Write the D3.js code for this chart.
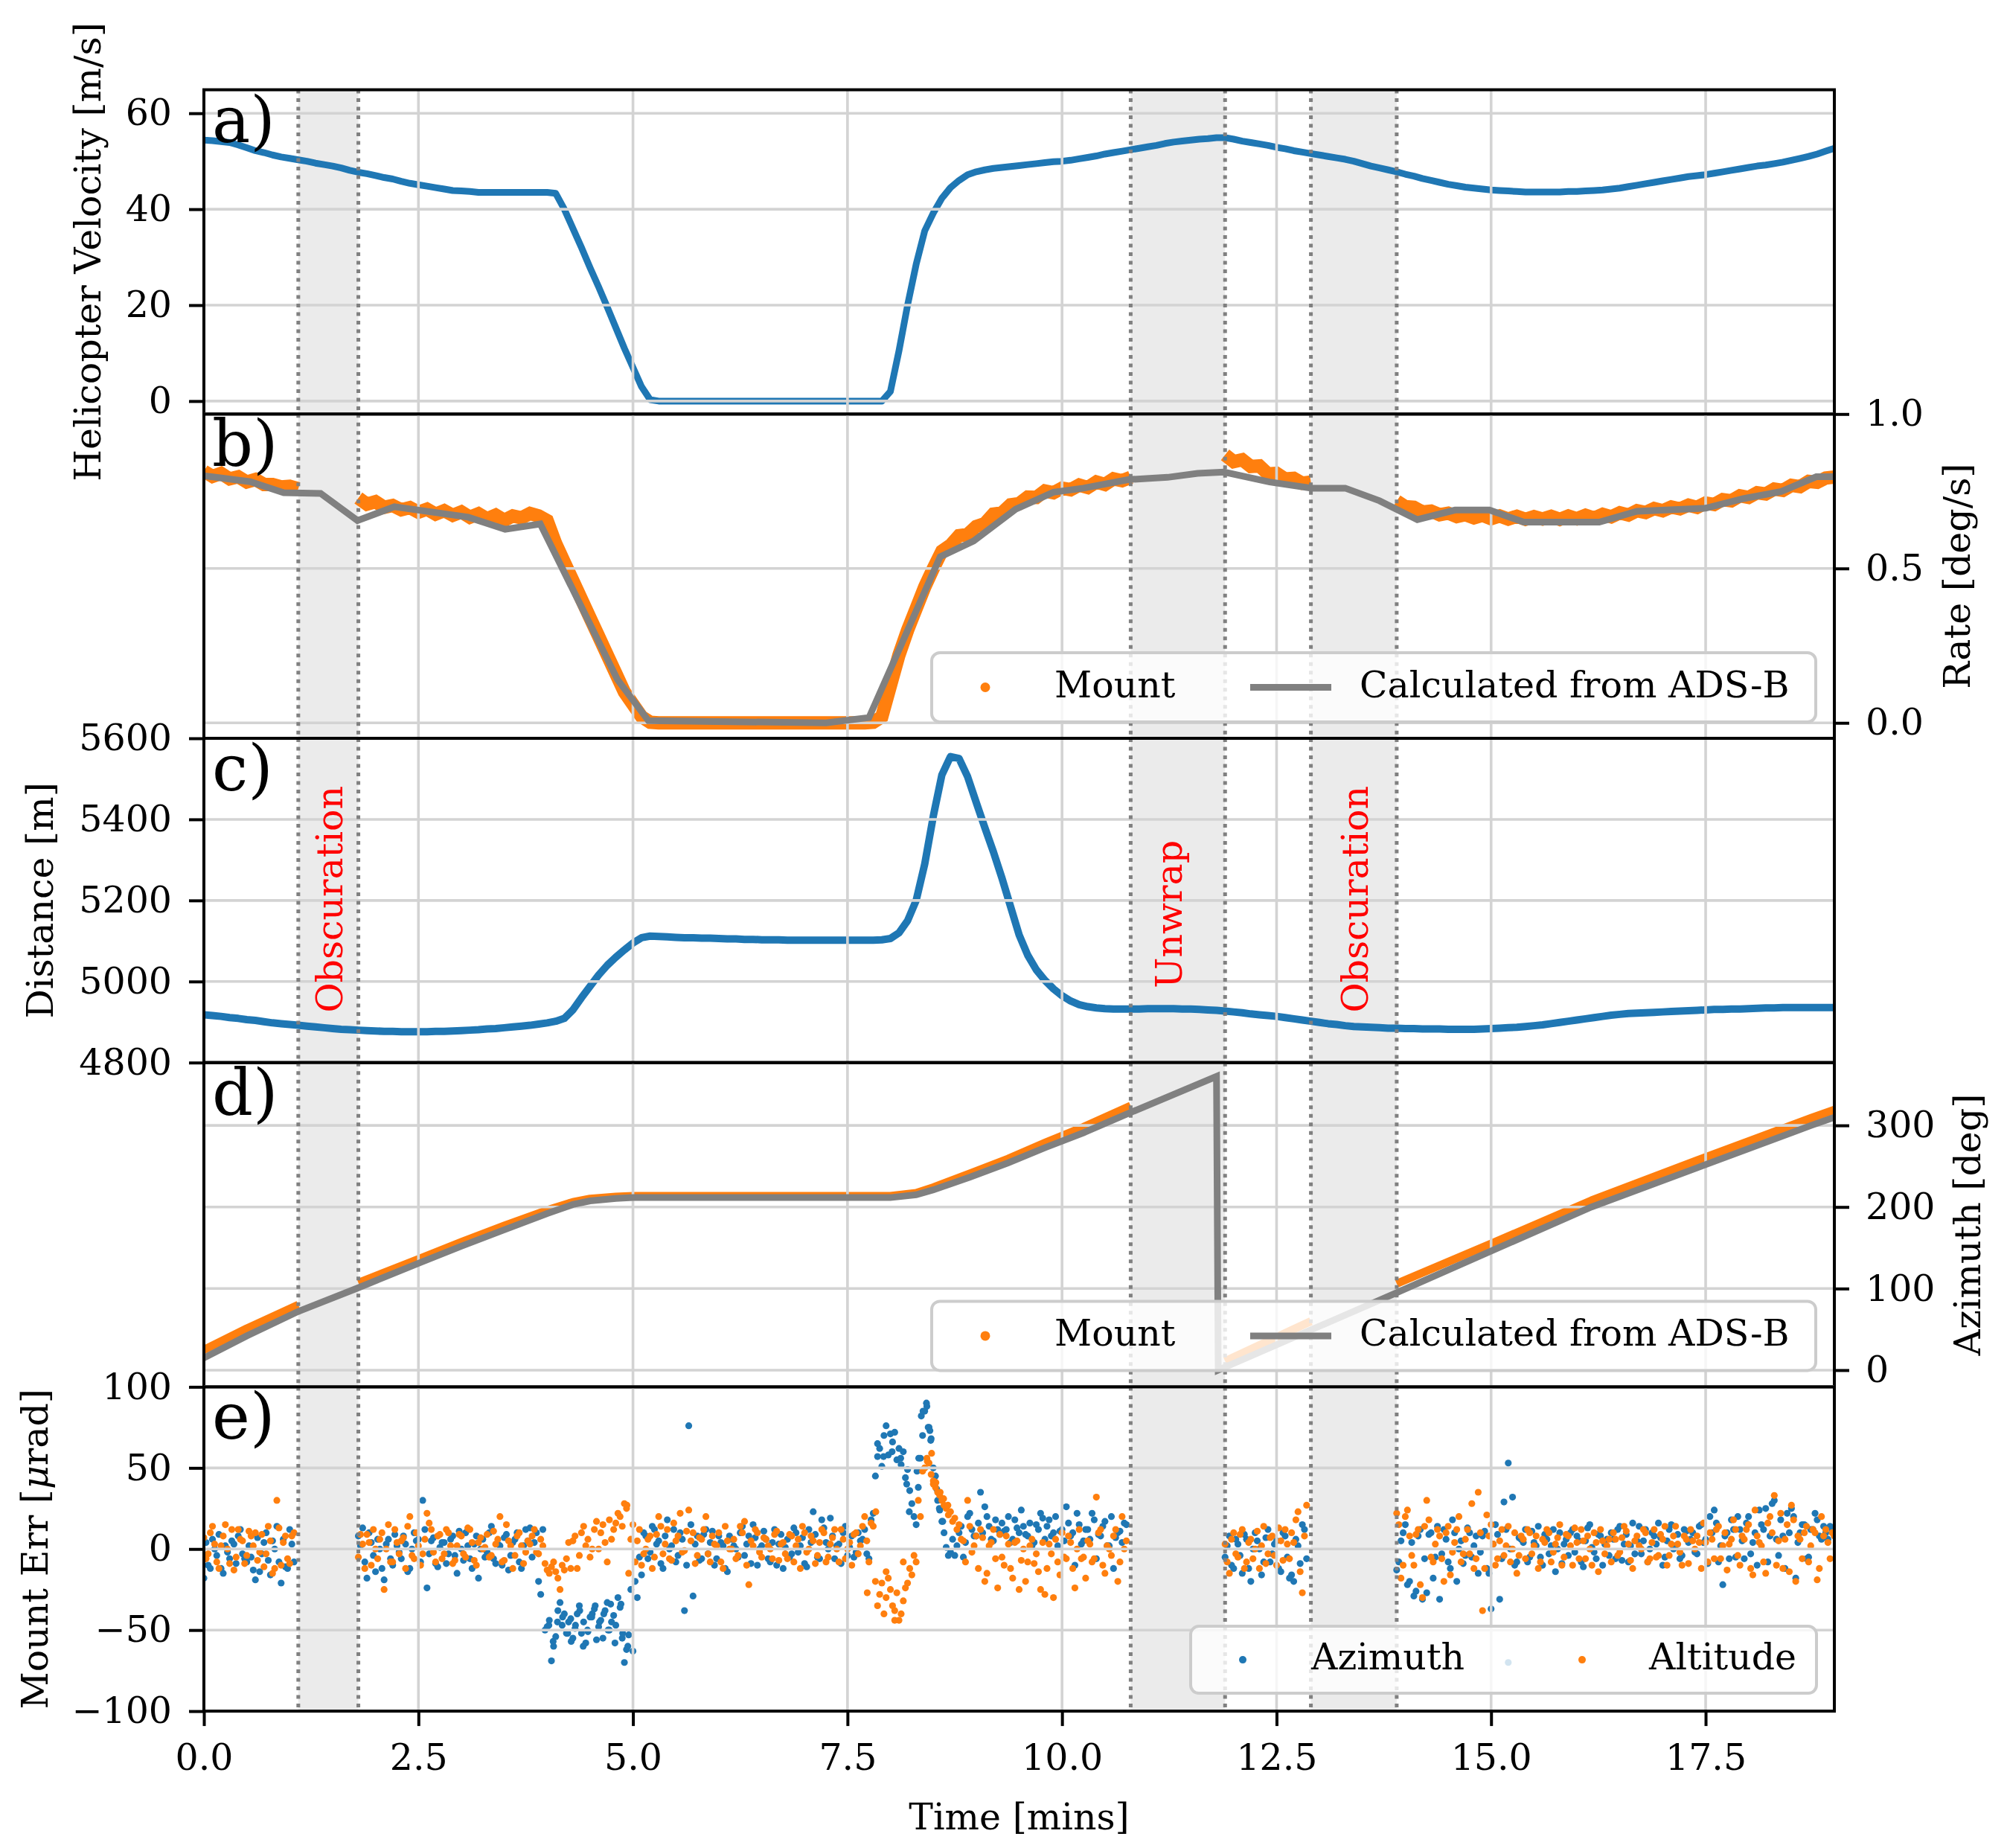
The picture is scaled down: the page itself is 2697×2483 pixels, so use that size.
<!DOCTYPE html>
<meta charset="utf-8">
<style>
  body { margin: 0; background: #fff; }
  svg text { font-family: "DejaVu Serif", serif; }
</style>
<script src="https://d3js.org/d3.v7.min.js"></script>
<svg id="chart" width="2697" height="2483"></svg>
<script>
  // ---------- values ----------
  var timeTicks = [0, 2.5, 5, 7.5, 10, 12.5, 15, 17.5];
  var velTicks = [0, 20, 40, 60];
  var rateTicks = [0, 0.5, 1.0];
  var distTicks = [4800, 5000, 5200, 5400, 5600];
  var azTicks = [0, 100, 200, 300];
  var errTicks = [-100, -50, 0, 50, 100];

  // shaded spans (minutes) and their captions
  var spans = [[1.1, 1.8], [10.8, 11.9], [12.9, 13.9]];
  var spanText = ["Obscuration", "Unwrap", "Obscuration"];
  var spanTextAt = [[1.45, 5203], [11.35, 5166], [13.4, 5203]];

  // a) helicopter velocity, every 0.1 min from 0 to 19
  var velStep = 0.1;
  var velocity = [
    54.4, 54.3, 54.1, 53.9, 53.4, 52.8, 52.2, 51.8, 51.3, 50.9,
    50.6, 50.3, 50.0, 49.6, 49.3, 49.0, 48.6, 48.1, 47.7, 47.4,
    47.0, 46.6, 46.3, 45.8, 45.4, 45.1, 44.8, 44.5, 44.2, 43.9,
    43.8, 43.7, 43.5, 43.5, 43.5, 43.5, 43.5, 43.5, 43.5, 43.5,
    43.5, 43.3, 40.0, 36.0, 32.0, 27.8, 23.8, 19.6, 15.3, 11.0,
    7.0, 3.0, 0.3, 0, 0, 0, 0, 0, 0, 0,
    0, 0, 0, 0, 0, 0, 0, 0, 0, 0,
    0, 0, 0, 0, 0, 0, 0, 0, 0, 0,
    2.0, 10.5, 20.0, 28.5, 35.5, 39.2, 42.3, 44.5, 46.0, 47.2,
    47.8, 48.2, 48.5, 48.7, 48.9, 49.1, 49.3, 49.5, 49.7, 49.9,
    50.0, 50.2, 50.5, 50.8, 51.1, 51.5, 51.8, 52.1, 52.4, 52.7,
    53.0, 53.3, 53.7, 54.0, 54.2, 54.4, 54.6, 54.7, 54.9, 54.9,
    54.6, 54.2, 53.9, 53.6, 53.3, 52.9, 52.6, 52.2, 51.9, 51.6,
    51.3, 51.0, 50.7, 50.4, 50.0, 49.5, 49.0, 48.6, 48.2, 47.8,
    47.3, 46.9, 46.4, 46.0, 45.6, 45.2, 44.9, 44.6, 44.4, 44.2,
    44.0, 43.9, 43.8, 43.7, 43.6, 43.6, 43.6, 43.6, 43.6, 43.7,
    43.7, 43.8, 43.9, 44.0, 44.2, 44.4, 44.7, 45.0, 45.3, 45.6,
    45.9, 46.2, 46.5, 46.8, 47.0, 47.2, 47.5, 47.8, 48.1, 48.4,
    48.7, 49.0, 49.2, 49.5, 49.8, 50.2, 50.6, 51.0, 51.5, 52.1,
    52.7
  ];

  // b) angular rate from ADS-B (polyline vertices, [min, deg/s])
  var rateAdsb = [
    [0.0, 0.800], [0.54, 0.781], [0.93, 0.745], [1.36, 0.743], [1.79, 0.655],
    [2.22, 0.700], [3.08, 0.666], [3.51, 0.627], [3.92, 0.644], [4.82, 0.140],
    [5.18, 0.007], [7.25, 0.000], [7.75, 0.017], [8.58, 0.538], [8.97, 0.589],
    [9.46, 0.692], [9.90, 0.747], [10.25, 0.760], [10.78, 0.788], [11.23, 0.795],
    [11.58, 0.808], [11.89, 0.812], [12.42, 0.780], [12.91, 0.760], [13.30, 0.760],
    [13.70, 0.719], [14.14, 0.658], [14.58, 0.689], [14.98, 0.689], [15.38, 0.650],
    [16.26, 0.650], [16.70, 0.685], [17.50, 0.695], [17.94, 0.726], [18.38, 0.749],
    [18.79, 0.797], [19.0, 0.797]
  ];
  // b) mount rate, every 0.1 min inside each tracked segment
  var rateStep = 0.1;
  var rateStart = [0, 1.8, 11.9, 13.9];
  var rateMount = [
    [0.815, 0.798, 0.808, 0.790, 0.797, 0.780, 0.788, 0.772, 0.772, 0.764, 0.766, 0.758],
    [0.728, 0.708, 0.716, 0.698, 0.704, 0.690, 0.697, 0.682, 0.692, 0.676,
     0.687, 0.672, 0.683, 0.666, 0.677, 0.661, 0.673, 0.656, 0.670, 0.664,
     0.678, 0.670, 0.655, 0.580, 0.520, 0.460, 0.400, 0.340, 0.280, 0.220,
     0.160, 0.100, 0.060, 0.020, 0.002, 0, 0, 0, 0, 0,
     0, 0, 0, 0, 0, 0, 0, 0, 0, 0,
     0, 0, 0, 0, 0, 0, 0, 0, 0, 0,
     0.002, 0.020, 0.120, 0.220, 0.300, 0.370, 0.440, 0.500, 0.556, 0.575,
     0.606, 0.610, 0.636, 0.645, 0.676, 0.680, 0.706, 0.710, 0.731, 0.730,
     0.751, 0.745, 0.760, 0.755, 0.770, 0.762, 0.780, 0.772, 0.790, 0.784,
     0.795],
    [0.868, 0.846, 0.852, 0.830, 0.832, 0.806, 0.808, 0.790, 0.792, 0.776, 0.780],
    [0.718, 0.700, 0.698, 0.683, 0.686, 0.674, 0.679, 0.668, 0.674, 0.664,
     0.672, 0.661, 0.670, 0.660, 0.669, 0.659, 0.668, 0.660, 0.669, 0.659,
     0.670, 0.661, 0.672, 0.663, 0.675, 0.667, 0.680, 0.673, 0.687, 0.681,
     0.694, 0.687, 0.699, 0.693, 0.705, 0.698, 0.712, 0.707, 0.723, 0.719,
     0.735, 0.730, 0.745, 0.741, 0.757, 0.753, 0.769, 0.765, 0.782, 0.779,
     0.793, 0.796]
  ];

  // c) distance, every 0.1 min from 0 to 19
  var distStep = 0.1;
  var distance = [
    4918, 4916, 4914, 4911, 4909, 4906, 4904, 4901, 4898, 4896,
    4894, 4892, 4890, 4888, 4886, 4884, 4882, 4881, 4880, 4879,
    4878, 4877, 4877, 4876, 4876, 4876, 4876, 4877, 4877, 4878,
    4879, 4880, 4881, 4883, 4884, 4886, 4888, 4890, 4892, 4895,
    4898, 4902, 4909, 4930, 4960, 4988, 5016, 5040, 5060, 5078,
    5095, 5108, 5112, 5111, 5110, 5109, 5108, 5108, 5107, 5107,
    5106, 5105, 5105, 5104, 5104, 5103, 5103, 5103, 5102, 5102,
    5102, 5102, 5102, 5102, 5102, 5102, 5102, 5102, 5102, 5103,
    5106, 5120, 5150, 5200, 5290, 5408, 5510, 5555, 5550, 5505,
    5442, 5380, 5320, 5255, 5185, 5115, 5065, 5029, 5003, 4982,
    4965, 4952, 4943, 4938, 4935, 4933, 4932, 4932, 4932, 4932,
    4933, 4933, 4933, 4933, 4932, 4932, 4931, 4930, 4929, 4927,
    4925, 4923, 4920, 4918, 4916, 4914, 4911, 4908, 4905, 4902,
    4899, 4896, 4894, 4891, 4889, 4888, 4887, 4886, 4885, 4885,
    4884, 4884, 4883, 4883, 4883, 4882, 4882, 4882, 4882, 4883,
    4884, 4885, 4886, 4887, 4889, 4891, 4893, 4896, 4899, 4902,
    4905, 4908, 4911, 4914, 4917, 4919, 4921, 4922, 4923, 4924,
    4925, 4926, 4927, 4928, 4929, 4930, 4931, 4931, 4932, 4932,
    4933, 4934, 4935, 4935, 4936, 4936, 4936, 4936, 4936, 4936,
    4936
  ];

  // d) azimuth [min, deg]
  var azAdsb = [
    [0, 15], [0.5, 42], [1.1, 72], [1.8, 101], [2.5, 131], [3.0, 152], [3.5, 172],
    [4.0, 192], [4.3, 203], [4.5, 207.5], [4.8, 210.5], [5.0, 211.5], [8.0, 211.5],
    [8.3, 215], [8.5, 221], [8.93, 236.7], [9.37, 254], [9.81, 273], [10.25, 291],
    [10.78, 315], [11.80, 360], [11.82, 0], [13.88, 94], [15.0, 146], [16.17, 200],
    [17.4, 248], [18.73, 300], [19.0, 310]
  ];
  var azMount = [
    [[0, 25], [0.5, 51], [1.1, 80]],
    [[1.8, 107], [2.5, 136], [3.0, 157], [3.5, 177], [4.0, 196], [4.3, 206], [4.5, 210],
     [4.8, 212.5], [5.0, 213.5], [8.0, 213.5], [8.3, 217], [8.5, 224], [8.93, 241],
     [9.37, 259], [9.81, 279], [10.25, 298], [10.8, 324]],
    [[11.9, 11], [12.9, 60]],
    [[13.9, 106], [15.0, 155], [16.17, 208], [17.4, 257], [18.73, 309], [19.0, 319]]
  ];

  // e) mount pointing error, two interleaved 0.05-min samplings per tracked segment
  var errStep = 0.05;
  var errStart = [0, 1.8, 11.9, 13.9];
  var errStart2 = [0.025, 1.825, 11.925, 13.925];
  var errAz = [
    [-18, -10, 6, -4, -12, 2, -6, 3, 8, -3, -8, -5, -19, -14, 4, -7, 5, 14, -21, -11, 12, -8],
    [8, 13, -18, 4, -14, 0, -19, 6, -10, 2,
     -6, 3, -12, 10, 6, 30, -24, 5, -9, 1,
     4, -3, 8, -15, 0, 10, -6, 3, -18, 6,
     -2, 14, -9, 2, 7, -13, 4, 10, -12, 12,
     13, 4, -20, 12, -48, -69, -54, -33, -40, -45,
     -55, -40, -52, -58, -42, -37, -48, -55, -33, -45,
     -47, -36, -70, -53, -63, -30, -16, 8, -2, 12,
     5, -12, 18, 2, -8, 10, -38, 76, -29, 8,
     -6, 12, 4, -10, 8, 2, -14, 6, 0, 10,
     -4, 8, 15, -10, 2, 6, -8, 12, 3, -12,
     6, -3, 10, 2, -9, 12, 23, -5, 18, 4,
     19, -6, 3, 10, -4, 8, -2, 5, 12, -6,
     22, 57, 51, 76, 71, 72, 62, 60, 49, 28,
     15, 56, 85, 75, 50, 30, 17, 1, -2, -4,
     10, -5, 20, 12, 8, 35, 26, 14, 5, 12,
     16, 12, 4, 18, 10, 14, 8, 2, 15, 22,
     6, 18, 10, 2, 12, 26, 8, -10, 15, 5,
     12, 22, -6, 8, 17, 2, -12, 10, 4, 15],
    [-5, 8, -12, 3, -15, 6, -20, 10, 0, -8, 12, -3, 5, -14, 8, -18, -20, 2, 15, -6],
    [-13, 5, 15, -20, -29, 8, -31, -27, 10, -5,
     -31, 12, -8, 18, -20, 5, -4, 10, 2, -15,
     8, -12, -37, 15, -31, 29, 53, 32, -8, 6,
     12, -5, 4, 14, -10, 6, 2, -14, 10, 3,
     -4, 12, 8, -8, 5, 15, -2, 9, -10, 6,
     10, -6, 14, 3, -8, 16, 5, -3, 12, 0,
     8, 16, -10, 5, 15, 2, -6, 12, 4, 10,
     -3, 15, 6, 20, 24, -8, -22, 10, 18, -5,
     12, -6, 20, 4, -10, 15, 25, 8, 30, -4,
     8, 22, 25, -18, 10, 15, -5, 12, 18, 6,
     10, 14, 8]
  ];
  var errAz2 = [
    [4, -12, 0, 9, -15, -2, 5, -9, 12, -6, 2, -13, 7, -3, 10, -16, 0, -8, 6, -12, 3],
    [2, -8, 10, -4, 6, -12, 3, -6, 9, -2,
     8, -14, 0, 5, -8, 12, -3, 7, -11, 4,
     -9, 6, -4, 11, -7, 2, -12, 8, 0, -5,
     10, -6, 3, -10, 9, -4, 6, -8, 2, 5,
     -5, 10, -28, -50, -44, -60, -38, -47, -52, -43,
     -49, -35, -45, -51, -40, -56, -44, -38, -50, -41,
     -30, -55, -62, -25, -20, -5, 10, -6, 14, 3,
     -9, 8, 0, 12, -4, 6, -10, 15, 3, -7,
     9, -3, 11, -6, 4, -12, 8, 2, -5, 14,
     3, -9, 7, 0, 11, -6, 4, -10, 9, 1,
     -5, 13, -2, 7, -11, 4, 9, -6, 13, 0,
     8, 2, -9, 14, 1, -5, 10, 6, -3, 18,
     45, 62, 70, 58, 66, 55, 52, 44, 36, 20,
     38, 70, 88, 68, 45, 24, 10, -4, 6, 2,
     14, 4, 22, 8, 16, 10, 20, 6, 18, 9,
     11, 20, 6, 13, 24, 9, 16, 4, 12, 19,
     14, 8, 20, 11, 5, 16, 10, 22, 3, 12,
     6, 18, 9, 14, 2, 20, 7, 11, 16],
    [2, -10, 6, -4, 9, -12, 0, 5, -16, 7, -8, 3, -12, 10, -5, -16, 6, -9, 12],
    [-8, 10, -22, 4, -26, 12, -6, 9, -18, 14,
     -3, 6, -12, 10, 0, -9, 13, -5, 8, -2,
     11, -15, 3, 9, -6, 12, 0, -10, 7, 4,
     -8, 11, 2, -5, 9, -3, 12, 0, -9, 6,
     10, -2, 5, -11, 13, 1, -6, 8, 3, -4,
     6, 12, -7, 9, 2, -3, 14, 5, -8, 10,
     3, 7, -5, 12, 0, 9, -4, 11, 6, -2,
     14, 4, -9, 10, 16, 2, 8, -6, 12, 20,
     5, 16, -3, 10, 24, 12, -8, 28, 6, 18,
     -12, 10, 20, 4, 15, -6, 12, 22, 8, 14,
     6, 12]
  ];
  var errAlt = [
    [7, -3, 14, -8, 2, 15, -9, -13, 12, 5, -4, 8, 10, -2, -11, 14, -15, 30, -10, 8, -9, 10],
    [-5, 3, 9, -10, 0, 6, -25, 15, -8, 4,
     5, -12, 20, -6, 2, -3, 22, 12, -8, 9,
     -3, 10, -9, 2, 8, -5, 12, -7, 4, 0,
     9, -4, 3, 20, -7, 5, -12, 8, 2, -2,
     3, 12, -3, 2, -13, -11, -14, -25, -13, 4,
     5, -12, 10, 2, -5, 12, 0, 15, -8, 6,
     16, 20, 28, -15, 15, 5, -10, 0, 8, -5,
     20, -3, 12, -7, 5, 22, -1, 24, 10, -4,
     6, 20, -8, 3, 10, -12, 5, 0, -6, 14,
     17, -22, 2, 10, -5, 6, 0, 9, -7, 4,
     -6, 8, 2, -12, 10, 0, 5, -4, 12, -8,
     3, 12, -8, 6, 0, -10, 10, 2, 20, -8,
     14, -35, -21, -30, -25, -38, -44, -32, -21, -16,
     -8, 20, 50, 53, 42, 35, 30, 25, 23, 19,
     15, 5, 30, -2, 8, 12, -20, 2, 12, -24,
     -5, 8, -12, 4, -25, 0, -8, 6, -3, -25,
     -28, 3, -30, -8, 10, -6, 4, -24, 12, -5,
     5, -8, 32, 12, -15, 0, 8, -20, 20, 5],
    [3, -15, 10, -5, 12, -8, 6, 0, -12, 14, -3, 8, -10, 5, 12, -6, 4, 23, -27, 27],
    [22, -18, 20, 8, -10, 12, -30, 30, -5, 3,
     8, -20, 14, -2, 12, -8, 6, -3, -12, 35,
     -38, 21, 15, -10, 5, -4, 14, 0, -15, 8,
     -6, 10, 2, -12, 6, 12, -8, 3, 15, -5,
     8, -10, 4, 12, -6, 0, 10, -14, 5, 2,
     -8, 6, -2, 14, 3, -12, 8, 0, 10, -6,
     12, -4, 6, -10, 3, 14, -2, 8, -9, 5,
     8, -12, 4, 10, -6, 14, 2, -13, 6, 12,
     -10, 6, 15, -16, 8, 2, -15, 20, 33, 5,
     -12, 15, 27, -20, 6, 10, -8, 12, -19, 20,
     12, -6, 8]
  ];
  var errAlt2 = [
    [-6, 10, 3, -12, 8, 0, 12, -5, 6, -9, 11, 2, -7, 9, -3, 5, -12, 13, 4, -6, 8],
    [9, -12, 4, 12, -6, 10, 0, -8, 12, -3,
     7, 14, -4, 10, -10, 6, 16, -2, 8, -6,
     12, 2, -7, 9, -3, 13, 4, -10, 7, 1,
     -5, 11, 6, -8, 15, 2, -4, 10, -9, 5,
     8, -2, 6, -9, -15, -8, -18, -10, -6, -12,
     8, -4, 14, 6, 0, 17, 10, 4, 18, 12,
     22, 14, 25, 6, -8, 12, -3, 6, -12, 9,
     14, 3, -6, 16, 8, -2, 11, 5, -9, 7,
     12, -3, 8, 2, -8, 14, 0, 6, -4, 10,
     -10, 5, 12, -2, 7, 2, -6, 11, 3, -3,
     9, -8, 6, 14, -2, 8, -9, 4, 10, -5,
     7, 0, 12, -6, 4, 9, -3, 14, 5, 16,
     -20, -28, -40, -18, -35, -27, -40, -24, -12, -4,
     30, 48, 56, 46, 38, 33, 27, 21, 17, 12,
     6, -8, 14, 2, -12, 7, -15, 4, -6, 9,
     -10, 3, -18, 5, -7, -20, 2, -9, -14, 4,
     -12, -3, 6, -16, -5, 8, -12, 0, -6, -18,
     3, -6, 10, -10, 2, -4, 12, -8, 0],
    [-8, 6, -3, 9, -12, 4, -6, 11, 2, -9, 7, -4, 13, -7, 3, 10, 18, -14, 8],
    [15, -10, 24, -4, 9, -22, 14, 18, -8, 12,
     -6, 10, -16, 4, 20, -3, 12, 28, -6, 10,
     -12, 8, 3, -6, 12, 2, -8, 10, -4, 6,
     12, -3, 8, -8, 4, 10, -2, 7, -10, 9,
     2, 13, -6, 5, 8, -10, 4, 12, -3, 6,
     10, -4, 7, 11, -7, 5, 2, 12, -8, 4,
     -5, 9, 14, -4, 8, 3, -10, 6, 12, 0,
     4, 16, -8, 6, 12, -6, 10, 3, 18, -4,
     8, 12, -12, 24, 4, -8, 16, 10, -10, 22,
     6, -14, 18, 8, -6, 14, 2, 10, -12, 8,
     4, 10]
  ];
  // extra points in the dense clusters [min, µrad]
  var errAzExtra = [
    [4.02, -47], [4.07, -57], [4.12, -45], [4.18, -42], [4.24, -52], [4.28, -57], [4.33, -47],
    [4.38, -38], [4.42, -60], [4.47, -50], [4.52, -42], [4.56, -35], [4.61, -45], [4.66, -40],
    [4.71, -50], [4.74, -34], [4.79, -58], [4.86, -34], [4.88, -52], [4.94, -60],
    [7.85, 65], [7.92, 57], [8.02, 60], [8.12, 56], [8.19, 40], [8.22, 23], [8.31, 48],
    [8.33, 56], [8.36, 82], [8.38, 85], [8.42, 90], [8.44, 75], [8.46, 73], [8.47, 67],
    [8.51, 42], [8.54, 37], [8.57, 25], [8.61, 17], [15.2, -70]
  ];
  var errAltExtra = [
    [7.73, -27], [7.83, 23], [7.95, -14], [8.05, -44], [8.15, -8], [8.40, 50], [8.43, 54],
    [8.48, 59], [8.50, 40], [8.53, 41], [8.58, 35], [8.62, 31], [8.67, 27], [4.93, 27]
  ];

  // ---------- layout ----------
  var svg = d3.select("#chart");
  var left = 274, right = 2465, top0 = 120.6, ph = 435.7;
  var font = 49;
  var blue = "#1f77b4", orange = "#ff7f0e", gray = "#808080";

  svg.append("rect").attr("width", 2697).attr("height", 2483).attr("fill", "#fff");

  var x = d3.scaleLinear().domain([0, 19]).range([left, right]);

  var panels = [
    {dom: [-2.7, 64.9], ticks: velTicks, side: "left", fmt: d3.format("d"), label: "Helicopter Velocity [m/s]", labelX: 135, letter: "a)"},
    {dom: [-0.05, 1.0], ticks: rateTicks, side: "right", fmt: d3.format(".1f"), label: "Rate [deg/s]", labelX: 2647, letter: "b)"},
    {dom: [4800, 5600], ticks: distTicks, side: "left", fmt: d3.format("d"), label: "Distance [m]", labelX: 71, letter: "c)"},
    {dom: [-20.5, 377], ticks: azTicks, side: "right", fmt: d3.format("d"), label: "Azimuth [deg]", labelX: 2661, letter: "d)"},
    {dom: [-100, 100], ticks: errTicks, side: "left", fmt: d3.format("d"), label: null, labelX: 64, letter: "e)"}
  ];
  panels.forEach(function(p, i) {
    p.top = top0 + i * ph;
    p.bottom = p.top + ph;
    p.y = d3.scaleLinear().domain(p.dom).range([p.bottom, p.top]);
  });

  function gridPoints(start, step, vals) {
    return vals.map(function(v, i) { return [start + i * step, v]; });
  }
  function segPoints(starts, step, segs) {
    var out = [];
    segs.forEach(function(vals, k) { out = out.concat(gridPoints(starts[k], step, vals)); });
    return out;
  }

  var defs = svg.append("defs");

  panels.forEach(function(p, i) {
    var clipId = "clip" + i;
    defs.append("clipPath").attr("id", clipId)
      .append("rect").attr("x", left).attr("y", p.top).attr("width", right - left).attr("height", ph);

    var g = svg.append("g");
    var y = p.y;
    var line = d3.line().x(function(d) { return x(d[0]); }).y(function(d) { return y(d[1]); });

    // shaded spans
    g.append("g").selectAll("rect").data(spans).join("rect")
      .attr("x", function(d) { return x(d[0]); })
      .attr("width", function(d) { return x(d[1]) - x(d[0]); })
      .attr("y", p.top).attr("height", ph)
      .attr("fill", "#ebebeb");

    // scatter-like series (under the grid)
    var low = g.append("g").attr("clip-path", "url(#" + clipId + ")");
    if (i === 0) {
      low.append("path").datum(gridPoints(0, velStep, velocity)).attr("d", line)
        .attr("fill", "none").attr("stroke", blue).attr("stroke-width", 9)
        .attr("stroke-linejoin", "round").attr("stroke-linecap", "round");
    } else if (i === 1) {
      rateMount.forEach(function(vals, k) {
        low.append("path").datum(gridPoints(rateStart[k], rateStep, vals)).attr("d", line)
          .attr("fill", "none").attr("stroke", orange).attr("stroke-width", 18)
          .attr("stroke-linejoin", "miter").attr("stroke-linecap", "butt");
      });
    } else if (i === 2) {
      low.append("path").datum(gridPoints(0, distStep, distance)).attr("d", line)
        .attr("fill", "none").attr("stroke", blue).attr("stroke-width", 10)
        .attr("stroke-linejoin", "round").attr("stroke-linecap", "round");
    } else if (i === 3) {
      azMount.forEach(function(seg) {
        low.append("path").datum(seg).attr("d", line)
          .attr("fill", "none").attr("stroke", orange).attr("stroke-width", 11)
          .attr("stroke-linejoin", "round").attr("stroke-linecap", "butt");
      });
    } else {
      var az = segPoints(errStart, errStep, errAz)
        .concat(segPoints(errStart2, errStep, errAz2)).concat(errAzExtra);
      var alt = segPoints(errStart, errStep, errAlt)
        .concat(segPoints(errStart2, errStep, errAlt2)).concat(errAltExtra);
      low.append("g").selectAll("circle").data(az).join("circle")
        .attr("cx", function(d) { return x(d[0]); }).attr("cy", function(d) { return y(d[1]); })
        .attr("r", 4.6).attr("fill", blue);
      low.append("g").selectAll("circle").data(alt).join("circle")
        .attr("cx", function(d) { return x(d[0]); }).attr("cy", function(d) { return y(d[1]); })
        .attr("r", 4.6).attr("fill", orange);
    }

    // grid
    var grid = g.append("g").attr("stroke", "#d3d3d3").attr("stroke-width", 3.6);
    grid.selectAll(".gx").data(timeTicks).join("line")
      .attr("x1", function(d) { return x(d); }).attr("x2", function(d) { return x(d); })
      .attr("y1", p.top).attr("y2", p.bottom);
    grid.selectAll(".gy").data(p.ticks).join("line")
      .attr("x1", left).attr("x2", right)
      .attr("y1", function(d) { return y(d); }).attr("y2", function(d) { return y(d); });

    // line series (over the grid)
    var high = g.append("g").attr("clip-path", "url(#" + clipId + ")");
    if (i === 1) {
      high.append("path").datum(rateAdsb).attr("d", line)
        .attr("fill", "none").attr("stroke", gray).attr("stroke-width", 9).attr("stroke-linejoin", "miter");
    } else if (i === 3) {
      high.append("path").datum(azAdsb).attr("d", line)
        .attr("fill", "none").attr("stroke", gray).attr("stroke-width", 9).attr("stroke-linejoin", "miter");
    }

    // dotted span edges
    var edges = [];
    spans.forEach(function(s) { edges.push(s[0], s[1]); });
    g.append("g").selectAll("line").data(edges).join("line")
      .attr("x1", function(d) { return x(d); }).attr("x2", function(d) { return x(d); })
      .attr("y1", p.top).attr("y2", p.bottom)
      .attr("stroke", gray).attr("stroke-width", 5).attr("stroke-dasharray", "5,6.5");

    // span captions in panel c
    if (i === 2) {
      spanText.forEach(function(t, k) {
        var px = x(spanTextAt[k][0]), py = y(spanTextAt[k][1]);
        g.append("text").attr("transform", "translate(" + px + "," + py + ") rotate(-90)")
          .attr("text-anchor", "middle").attr("dy", t === "Unwrap" ? "0.11em" : "0.38em")
          .attr("font-size", font).attr("fill", "#ff0000").text(t);
      });
    }

    // frame
    g.append("rect").attr("x", left).attr("y", p.top).attr("width", right - left).attr("height", ph)
      .attr("fill", "none").attr("stroke", "#000").attr("stroke-width", 4);

    // y axis
    var axis = (p.side === "left" ? d3.axisLeft(y) : d3.axisRight(y))
      .tickValues(p.ticks).tickFormat(p.fmt).tickSize(20).tickPadding(p.side === "left" ? 23 : 22);
    var ag = g.append("g").attr("transform", "translate(" + (p.side === "left" ? left : right) + ",0)").call(axis);
    ag.attr("font-size", font).attr("font-family", "DejaVu Serif");
    ag.select(".domain").remove();
    ag.selectAll(".tick line").attr("stroke", "#000").attr("stroke-width", 4);
    ag.selectAll(".tick text").attr("fill", "#000");

    // axis label
    var cy = (p.top + p.bottom) / 2;
    var lab = g.append("text").attr("transform", "translate(" + p.labelX + "," + cy + ") rotate(-90)")
      .attr("text-anchor", "middle").attr("font-size", font);
    if (p.label) {
      lab.text(p.label);
    } else {
      lab.append("tspan").text("Mount Err [");
      lab.append("tspan").attr("font-style", "italic").text("μ");
      lab.append("tspan").text("rad]");
    }

    // panel letter
    g.append("text").attr("x", left + 11).attr("y", p.top + 70)
      .attr("font-family", "Liberation Serif").attr("font-size", 86).text(p.letter);
  });

  // time axis
  var xg = svg.append("g").attr("transform", "translate(0," + panels[4].bottom + ")")
    .call(d3.axisBottom(x).tickValues(timeTicks).tickFormat(d3.format(".1f")).tickSize(20).tickPadding(24));
  xg.attr("font-size", font).attr("font-family", "DejaVu Serif");
  xg.select(".domain").remove();
  xg.selectAll(".tick line").attr("stroke", "#000").attr("stroke-width", 4);
  xg.selectAll(".tick text").attr("fill", "#000");
  svg.append("text").attr("x", (left + right) / 2).attr("y", 2458)
    .attr("text-anchor", "middle").attr("font-size", font).text("Time [mins]");

  // legends
  function drawLegend(bx, by, bw, bh, items) {
    var lg = svg.append("g");
    lg.append("rect").attr("x", bx).attr("y", by).attr("width", bw).attr("height", bh).attr("rx", 11)
      .attr("fill", "#fff").attr("fill-opacity", 0.8).attr("stroke", "#cccccc").attr("stroke-width", 4);
    var cy = by + bh / 2;
    items.forEach(function(it) {
      if (it.kind === "dot") {
        lg.append("circle").attr("cx", it.mx).attr("cy", cy).attr("r", it.r).attr("fill", it.color);
      } else {
        lg.append("line").attr("x1", it.mx).attr("x2", it.mx + 109).attr("y1", cy).attr("y2", cy)
          .attr("stroke", it.color).attr("stroke-width", 9);
      }
      lg.append("text").attr("x", it.tx).attr("y", cy + 13).attr("font-size", font).text(it.text);
    });
  }
  [1, 3].forEach(function(i) {
    drawLegend(1252, panels[i].bottom - 115, 1188, 93, [
      {kind: "dot", mx: 1324, r: 6.5, color: orange, tx: 1417, text: "Mount"},
      {kind: "line", mx: 1680, color: gray, tx: 1827, text: "Calculated from ADS-B"}
    ]);
  });
  drawLegend(1600, panels[4].bottom - 114, 841, 90, [
    {kind: "dot", mx: 1670, r: 5, color: blue, tx: 1762, text: "Azimuth"},
    {kind: "dot", mx: 2126, r: 5, color: orange, tx: 2216, text: "Altitude"}
  ]);
</script>
